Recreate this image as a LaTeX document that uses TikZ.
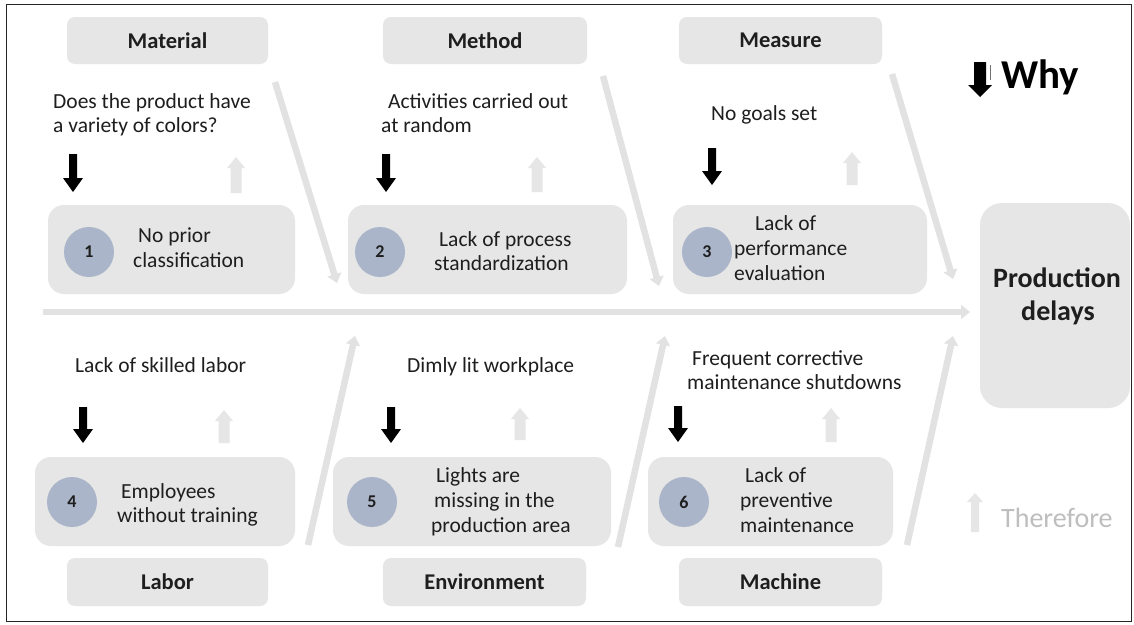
\documentclass[tikz,border=0pt]{standalone}
\usepackage{fontspec}
\setmainfont{Carlito}
\usetikzlibrary{arrows.meta}
\definecolor{boxgray}{RGB}{231,230,230}
\definecolor{circblue}{RGB}{170,181,201}
\definecolor{lightarr}{RGB}{226,226,226}
\definecolor{upgray}{RGB}{230,230,230}
\definecolor{thergray}{RGB}{190,190,190}
\definecolor{inkdark}{RGB}{30,30,30}
\newcommand\vblockarrow[7]{%
  \fill[#1] ({#2-#6},#3) -- ({#2+#6},#3) -- ({#2+#6},#4) -- ({#2+#7},#4) -- (#2,#5) -- ({#2-#7},#4) -- ({#2-#6},#4) -- cycle;}
\begin{document}
\begin{tikzpicture}[x=1pt,y=-1pt,
  catbox/.style={fill=boxgray, rounded corners=8pt, minimum height=47pt, inner sep=0pt, font=\fontsize{22.5}{26}\selectfont\bfseries, text=inkdark},
  causebox/.style={fill=boxgray, rounded corners=16pt, minimum height=89pt, inner sep=0pt},
  numcirc/.style={circle, fill=circblue, minimum size=50pt, inner sep=0pt, font=\fontsize{18}{21}\selectfont\bfseries, text=inkdark},
  txt/.style={font=\fontsize{21.5}{25}\selectfont, inner sep=0pt, anchor=base west, text=inkdark},
  bone/.style={draw=lightarr, line width=6.5pt, -{Triangle[width=14pt,length=9pt]}},
]
\useasboundingbox (0,0) rectangle (1134,624);
\fill[white] (0,0) rectangle (1134,624);
\draw[line width=1.6pt, draw=black!85] (6.5,4.5) rectangle (1131.5,621.5);

% category boxes
\node[catbox, minimum width=201pt] (mat) at (167.5,40.5) {Material};
\node[catbox, minimum width=204pt] (met) at (485,40.5) {Method};
\node[catbox, minimum width=203pt] (mea) at (780.5,40.5) {Measure};
\node[catbox, minimum width=201pt, minimum height=48pt] (lab) at (167.5,582) {Labor};
\node[catbox, minimum width=203pt, minimum height=48pt] (env) at (484.5,582) {Environment};
\node[catbox, minimum width=203pt, minimum height=48pt] (mac) at (780.5,582) {Machine};

% cause boxes
\node[causebox, minimum width=247pt] (c1) at (171.5,249.5) {};
\node[causebox, minimum width=279pt] (c2) at (487.5,249.5) {};
\node[causebox, minimum width=254pt] (c3) at (800,249.5) {};
\node[causebox, minimum width=260pt] (c4) at (165,501.5) {};
\node[causebox, minimum width=278pt] (c5) at (472,501.5) {};
\node[causebox, minimum width=245pt] (c6) at (770.5,501.5) {};
\node[fill=boxgray, rounded corners=22pt, minimum width=150pt, minimum height=205pt, inner sep=0pt] (pd) at (1055,305.5) {};

% spine and bones
\coordinate (sp0) at (43,312);
\coordinate (sp1) at (970,312);
\draw[bone] (sp0) -- (sp1);
\coordinate (d1a) at (275,82);  \coordinate (d1b) at (337,283);
\coordinate (d2a) at (603,76);  \coordinate (d2b) at (659,286);
\coordinate (d3a) at (892,74);  \coordinate (d3b) at (953,279);
\coordinate (d4a) at (308,545); \coordinate (d4b) at (355,336);
\coordinate (d5a) at (618,547); \coordinate (d5b) at (665,336);
\coordinate (d6a) at (907,545); \coordinate (d6b) at (953,336);
\draw[bone] (d1a) -- (d1b);
\draw[bone] (d2a) -- (d2b);
\draw[bone] (d3a) -- (d3b);
\draw[bone] (d4a) -- (d4b);
\draw[bone] (d5a) -- (d5b);
\draw[bone] (d6a) -- (d6b);

% numbered circles
\node[numcirc] (n1) at (89,252) {1};
\node[numcirc] (n2) at (380,252) {2};
\node[numcirc] (n3) at (707,252) {3};
\node[numcirc] (n4) at (72,502) {4};
\node[numcirc] (n5) at (372,502) {5};
\node[numcirc] (n6) at (684,502) {6};

% why texts
\node[txt] (w1a) at (53,108) {Does the product have};
\node[txt] (w1b) at (53,132) {a variety of colors?};
\node[txt] (w2a) at (388,108) {Activities carried out};
\node[txt] (w2b) at (381,132) {at random};
\node[txt] (w3a) at (711,120) {No goals set};
\node[txt] (w4a) at (75,372) {Lack of skilled labor};
\node[txt] (w5a) at (407,372) {Dimly lit workplace};
\node[txt] (w6a) at (692,365) {Frequent corrective};
\node[txt] (w6b) at (687,389) {maintenance shutdowns};

% cause texts
\node[txt] (t1a) at (138,242) {No prior};
\node[txt] (t1b) at (133,267) {classification};
\node[txt] (t2a) at (439,246) {Lack of process};
\node[txt] (t2b) at (434,270) {standardization};
\node[txt] (t3a) at (755,230) {Lack of};
\node[txt] (t3b) at (734,255) {performance};
\node[txt] (t3c) at (734,280) {evaluation};
\node[txt] (t4a) at (121,498) {Employees};
\node[txt] (t4b) at (117,522) {without training};
\node[txt] (t5a) at (436,482) {Lights are};
\node[txt] (t5b) at (434,507) {missing in the};
\node[txt] (t5c) at (431,532) {production area};
\node[txt] (t6a) at (745,482) {Lack of};
\node[txt] (t6b) at (740,507) {preventive};
\node[txt] (t6c) at (740,532) {maintenance};

% effect text
\node[font=\fontsize{28}{33}\selectfont\bfseries, inner sep=0pt, anchor=base, text=inkdark] (pda) at (1057,287) {Production};
\node[font=\fontsize{28}{33}\selectfont\bfseries, inner sep=0pt, anchor=base, text=inkdark] (pdb) at (1058,320) {delays};

% why (black) arrows
\vblockarrow{black}{73}{154}{178}{192}{4}{10}
\vblockarrow{black}{386}{154}{178}{192}{4}{10}
\vblockarrow{black}{712}{148}{171}{185}{4}{10}
\vblockarrow{black}{83}{407}{429}{443}{4}{10}
\vblockarrow{black}{391}{407}{429}{443}{4}{10}
\vblockarrow{black}{678}{406}{428}{442}{4}{10}

% therefore (gray) arrows
\vblockarrow{upgray}{236}{193}{168}{157}{5.5}{9}
\vblockarrow{upgray}{537}{192}{168}{157}{5.5}{9}
\vblockarrow{upgray}{852}{185}{163}{152}{5.5}{9}
\vblockarrow{upgray}{224}{443}{421}{410}{5.5}{9}
\vblockarrow{upgray}{520}{440}{419}{408}{5.5}{9}
\vblockarrow{upgray}{831}{442}{419}{408}{5.5}{9}

% legend
\vblockarrow{black}{980}{62}{85}{97}{6}{12}
\draw[black!55, line width=1pt] (990,65) -- (990,80);
\node[font=\fontsize{41}{46}\selectfont\bfseries, inner sep=0pt, anchor=base west, text=black] (why) at (1001,88) {Why};
\vblockarrow{upgray}{975}{532}{502}{493}{4}{8}
\node[font=\fontsize{28}{33}\selectfont, inner sep=0pt, anchor=base west, text=thergray] (ther) at (1001,527) {Therefore};
\end{tikzpicture}
\end{document}
